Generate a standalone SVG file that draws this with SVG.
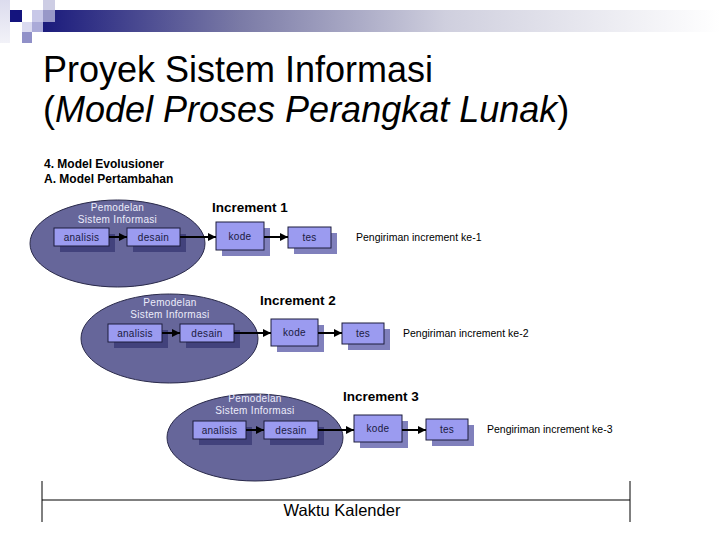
<svg xmlns="http://www.w3.org/2000/svg" width="720" height="540" viewBox="0 0 720 540">
<defs>
<linearGradient id="bar" x1="0" y1="0" x2="1" y2="0">
<stop offset="0" stop-color="#16167a"/>
<stop offset="0.3" stop-color="#7a7aa6"/>
<stop offset="0.6" stop-color="#cfcfde"/>
<stop offset="1" stop-color="#ffffff"/>
</linearGradient>
<linearGradient id="strip" x1="0" y1="0" x2="0" y2="1">
<stop offset="0" stop-color="#dcdcee"/>
<stop offset="1" stop-color="#f2f2f8"/>
</linearGradient>
<marker id="ah" markerUnits="userSpaceOnUse" markerWidth="8" markerHeight="8" refX="8" refY="4" orient="auto">
<path d="M0,0 L8,4 L0,8 z" fill="#000"/>
</marker>
<style>
.ell{fill:#66669a;stroke:#2a2a4a;stroke-width:1}
.box{fill:#9b9bf0;stroke:#1c1c3c;stroke-width:1}
.shin{fill:#42427c}
.shout{fill:#8080bc}
.bt{font-family:"Liberation Sans",Arial,sans-serif;font-size:10px;fill:#1a1a40;text-anchor:middle;letter-spacing:0.3px}
.pm{font-family:"Liberation Sans",Arial,sans-serif;font-size:10px;fill:#ececfa;text-anchor:middle;letter-spacing:0.3px}
.inc{font-family:"Liberation Sans",Arial,sans-serif;font-size:13.5px;font-weight:bold;fill:#000}
.pg{font-family:"Liberation Sans",Arial,sans-serif;font-size:10.5px;fill:#000}
.conn line{stroke:#000;stroke-width:2;marker-end:url(#ah)}
</style>
</defs>
<rect width="720" height="540" fill="#fff"/>
<g id="header">
<rect x="33" y="10" width="687" height="22" fill="url(#bar)"/>
<rect x="0" y="0" width="10" height="43" fill="url(#strip)"/>
<rect x="10" y="10" width="12" height="12" fill="#14147e"/>
<rect x="43" y="0" width="12" height="10" fill="#cdcde4"/>
<rect x="32" y="10" width="11" height="12" fill="#c8c8e8"/>
<rect x="43" y="10" width="12" height="12" fill="#9898c8"/>
<rect x="22" y="22" width="10" height="10" fill="#dadaf0"/>
<rect x="32" y="22" width="11" height="10" fill="#aaaad8"/>
<rect x="22" y="32" width="10" height="11" fill="#9090c8"/>
</g>
<g id="title" font-family="'Liberation Sans',Arial,sans-serif" font-size="36" fill="#000">
<text x="43" y="82">Proyek Sistem Informasi</text>
<text x="43" y="122">(<tspan font-style="italic">Model Proses Perangkat Lunak</tspan>)</text>
</g>
<g id="subtitle" font-family="'Liberation Sans',Arial,sans-serif" font-size="12" font-weight="bold" fill="#000">
<text x="44" y="168">4. Model Evolusioner</text>
<text x="44" y="183">A. Model Pertambahan</text>
</g>

<g id="row1">
<g id="ellipse1"><ellipse class="ell" cx="117.5" cy="243.5" rx="87.5" ry="43.5"/>
<text class="pm" x="117.5" y="211">Pemodelan</text>
<text class="pm" x="117.5" y="223">Sistem Informasi</text></g>
<g id="analisis1"><rect class="shin" x="60" y="234" width="55" height="18"/><rect class="box" x="54" y="228" width="55" height="18"/><text class="bt" x="81.5" y="241">analisis</text></g>
<g id="desain1"><rect class="shin" x="133" y="234" width="53" height="18"/><rect class="box" x="127" y="228" width="53" height="18"/><text class="bt" x="153.5" y="241">desain</text></g>
<g id="kode1"><rect class="shout" x="222" y="228" width="48" height="28"/><rect class="box" x="216" y="222" width="48" height="28"/><text class="bt" x="240" y="240">kode</text></g>
<g id="tes1"><rect class="shout" x="294" y="233" width="43" height="21"/><rect class="box" x="288" y="227" width="43" height="21"/><text class="bt" x="309.5" y="241">tes</text></g>
<text class="inc" x="212" y="212">Increment 1</text>
<text class="pg" x="356" y="241">Pengiriman increment ke-1</text>
</g>

<g id="row2">
<g id="ellipse2"><ellipse class="ell" cx="169.5" cy="338.5" rx="88.5" ry="44.5"/>
<text class="pm" x="170" y="306">Pemodelan</text>
<text class="pm" x="170" y="318">Sistem Informasi</text></g>
<g id="analisis2"><rect class="shin" x="114" y="330" width="54" height="18"/><rect class="box" x="108" y="324" width="54" height="18"/><text class="bt" x="135" y="337">analisis</text></g>
<g id="desain2"><rect class="shin" x="186" y="330" width="54" height="18"/><rect class="box" x="180" y="324" width="54" height="18"/><text class="bt" x="207" y="337">desain</text></g>
<g id="kode2"><rect class="shout" x="277" y="325" width="47" height="27"/><rect class="box" x="271" y="319" width="47" height="27"/><text class="bt" x="294.5" y="336">kode</text></g>
<g id="tes2"><rect class="shout" x="348" y="329" width="42" height="21"/><rect class="box" x="342" y="323" width="42" height="21"/><text class="bt" x="363" y="337">tes</text></g>
<text class="inc" x="260" y="305">Increment 2</text>
<text class="pg" x="403" y="337">Pengiriman increment ke-2</text>
</g>

<g id="row3">
<g id="ellipse3"><ellipse class="ell" cx="255" cy="437.5" rx="88" ry="43.5"/>
<text class="pm" x="255" y="402">Pemodelan</text>
<text class="pm" x="255" y="414">Sistem Informasi</text></g>
<g id="analisis3"><rect class="shin" x="199" y="427" width="53" height="18"/><rect class="box" x="193" y="421" width="53" height="18"/><text class="bt" x="219.5" y="434">analisis</text></g>
<g id="desain3"><rect class="shin" x="270" y="427" width="54" height="18"/><rect class="box" x="264" y="421" width="54" height="18"/><text class="bt" x="291" y="434">desain</text></g>
<g id="kode3"><rect class="shout" x="360" y="421" width="48" height="27"/><rect class="box" x="354" y="415" width="48" height="27"/><text class="bt" x="378" y="432">kode</text></g>
<g id="tes3"><rect class="shout" x="432" y="425" width="42" height="21"/><rect class="box" x="426" y="419" width="42" height="21"/><text class="bt" x="447" y="433">tes</text></g>
<text class="inc" x="343" y="401">Increment 3</text>
<text class="pg" x="487" y="433">Pengiriman increment ke-3</text>
</g>

<g id="connectors" class="conn">
<line x1="109" y1="237" x2="127" y2="237"/>
<line x1="180" y1="237" x2="216" y2="237"/>
<line x1="264" y1="237" x2="288" y2="237"/>
<line x1="162" y1="333" x2="180" y2="333"/>
<line x1="234" y1="333" x2="271" y2="333"/>
<line x1="318" y1="333" x2="342" y2="333"/>
<line x1="246" y1="430" x2="264" y2="430"/>
<line x1="318" y1="430" x2="354" y2="430"/>
<line x1="402" y1="430" x2="426" y2="430"/>
</g>

<g id="timeline" stroke="#000" stroke-width="1">
<line x1="42" y1="481" x2="42" y2="522"/>
<line x1="630" y1="481" x2="630" y2="522"/>
<line x1="42" y1="500" x2="630" y2="500"/>
</g>
<text x="342" y="516" font-family="'Liberation Sans',Arial,sans-serif" font-size="16.5" text-anchor="middle" fill="#000">Waktu Kalender</text>
</svg>
